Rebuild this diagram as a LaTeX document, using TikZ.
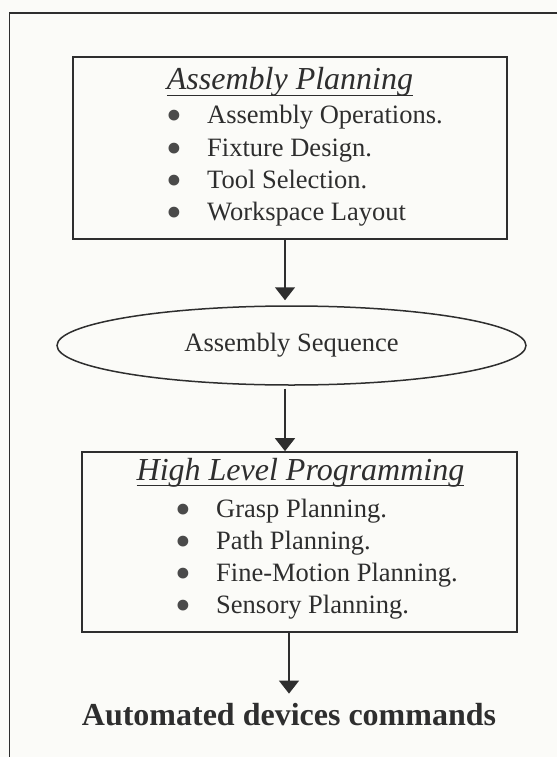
\documentclass[tikz,border=0pt]{standalone}
\usepackage{fontspec}
\setmainfont{Liberation Serif}
\usepackage{graphicx}
\usepackage{tikz}
\usetikzlibrary{arrows.meta,positioning,shapes.geometric}

\definecolor{ink}{HTML}{2E2E2E}
\definecolor{dot}{HTML}{4A4A4A}
\definecolor{paper}{HTML}{FBFBF8}
\newcommand{\itemsize}{\fontsize{26.5}{32}\selectfont}
\newcommand{\headsize}{\fontsize{32}{38}\selectfont}
\newcommand{\bul}{\makebox[0pt]{\smash{\textcolor{dot}{\raisebox{-7pt}{\scalebox{1.7}{\textbullet}}}}}\hspace{33pt}}
\newcommand{\undl}[1]{\setbox0\hbox{#1}\rlap{\rule[-6pt]{\wd0}{1.3pt}}\box0}

\begin{document}
\begin{tikzpicture}[
  x=1pt, y=-1pt,
  box/.style={draw=ink, line width=1.7pt, inner sep=0pt},
  seq/.style={draw=ink, ellipse, line width=1.5pt, inner sep=0pt, minimum width=469pt, minimum height=79pt, font=\itemsize, text=ink},
  head/.style={anchor=base, inner sep=0pt, font=\headsize\itshape, text=ink},
  entry/.style={anchor=base west, inner sep=0pt, font=\itemsize, text=ink},
  arrow/.style={-{Triangle[length=13pt,width=20pt]}, line width=1.5pt, draw=ink, fill=ink}
]
\fill[paper] (0,0) rectangle (557,757);
\useasboundingbox (0,0) rectangle (557,757);
\draw[ink, line width=1.8pt] (557,13) -- (9.5,13) -- (9.5,757);

\node[box, minimum width=434pt, minimum height=182pt] (planbox) at (290,148) {};
\node[head] (planhead) at (290,90) {\undl{Assembly Planning}};
\node[entry] (planops) at (174,124) {\bul Assembly Operations.};
\node[entry] (planfix) at (174,156) {\bul Fixture Design.};
\node[entry] (plantool) at (174,188) {\bul Tool Selection.};
\node[entry] (planlay) at (174,220) {\bul Workspace Layout};

\node[seq] (seqell) at (291.5,345.5) {Assembly Sequence};

\node[box, minimum width=435pt, minimum height=180pt] (progbox) at (299.5,542) {};
\node[head] (proghead) at (300.5,480) {\undl{High Level Programming}};
\node[entry] (proggrasp) at (183,517) {\bul Grasp Planning.};
\node[entry] (progpath) at (183,549) {\bul Path Planning.};
\node[entry] (progfine) at (183,581) {\bul Fine-Motion Planning.};
\node[entry] (progsens) at (183,613) {\bul Sensory Planning.};

\node[anchor=base, inner sep=0pt, font=\headsize\bfseries, text=ink] (cmds) at (289,725) {Automated devices commands};

\coordinate (a1) at ([xshift=-5pt]planbox.south);
\coordinate (a2) at ([xshift=-6.5pt]seqell.south);
\draw[arrow, shorten >=5pt] (a1) -- (a1 |- seqell.north);
\draw[arrow, shorten <=3pt] (a2) -- (a2 |- progbox.north);
\draw[arrow] (progbox.south -| cmds.north) -- ([yshift=9pt]cmds.north);
\end{tikzpicture}
\end{document}
